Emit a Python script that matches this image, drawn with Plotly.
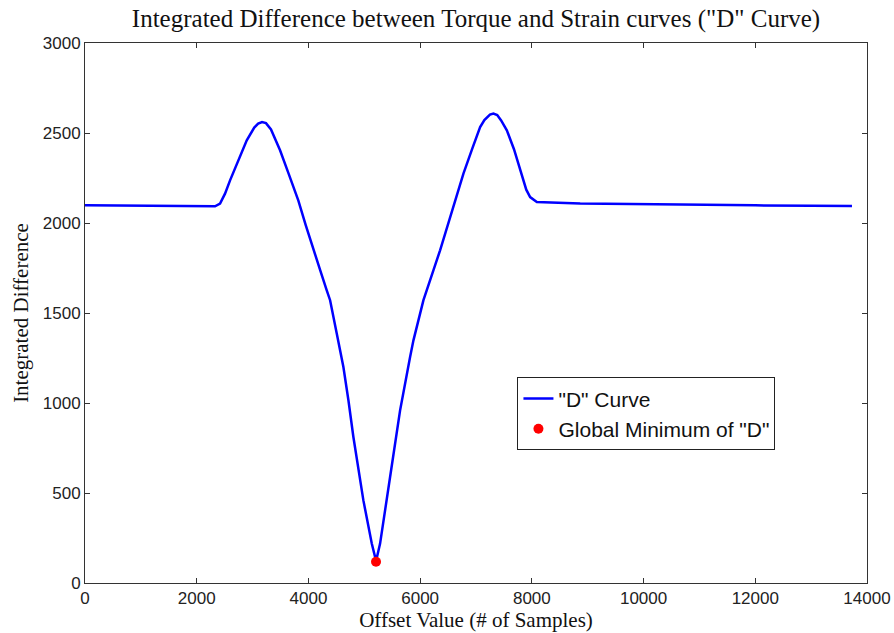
import plotly.graph_objects as go

# "D" curve samples
offset = [0, 600, 1200, 1800, 2328, 2418, 2507, 2597, 2750, 2896, 3030, 3100, 3170, 3240, 3330,
          3492, 3650, 3820, 3950, 4089, 4210, 4328, 4388, 4507, 4626, 4716, 4805, 4984,
          5134, 5211, 5283, 5462, 5641, 5820, 5880, 6059, 6119, 6240, 6357, 6490, 6626,
          6775, 6930, 7074, 7150, 7250, 7312, 7380, 7450, 7552, 7680, 7790, 7900, 7969,
          8089, 8865, 10000, 11000, 12000, 13000, 13731]
d_value = [2098, 2096, 2095, 2094, 2093, 2108, 2163, 2237, 2350, 2459, 2530, 2552, 2561, 2555,
           2520, 2404, 2270, 2124, 1990, 1848, 1738, 1626, 1571, 1386, 1200, 1015, 811, 459,
           219, 122, 219, 589, 959, 1256, 1348, 1571, 1630, 1740, 1848, 1985, 2124,
           2274, 2410, 2533, 2572, 2602, 2608, 2600, 2570, 2515, 2410, 2293, 2185, 2144,
           2117, 2108, 2103, 2100, 2098, 2096, 2095]
min_offset = [5210]
min_value = [118]

x_ticks = [0, 2000, 4000, 6000, 8000, 10000, 12000, 14000]
y_ticks = [0, 500, 1000, 1500, 2000, 2500, 3000]

fig = go.Figure()
fig.add_trace(go.Scatter(x=offset, y=d_value, mode="lines", name='"D" Curve',
                         line=dict(color="#0000ff", width=2.5)))
fig.add_trace(go.Scatter(x=min_offset, y=min_value, mode="markers",
                         name='Global Minimum of "D"',
                         marker=dict(color="#ff0000", size=10)))

axis_common = dict(showgrid=False, zeroline=False, showline=True, linecolor="#333333",
                   linewidth=1, ticks="inside", ticklen=5, tickcolor="#333333",
                   mirror="ticks", automargin=False,
                   tickfont=dict(family="Liberation Sans, Arial, sans-serif", size=17,
                                 color="#222222"))

serif = "Liberation Serif, Times New Roman, serif"

fig.update_xaxes(range=[0, 14000], tickvals=x_ticks, ticktext=[str(v) for v in x_ticks],
                 title=dict(text="Offset Value (# of Samples)", standoff=3,
                            font=dict(family=serif, size=21, color="#111111")),
                 **axis_common)
fig.update_yaxes(range=[0, 3000], tickvals=y_ticks, ticktext=[str(v) for v in y_ticks],
                 title=dict(text="Integrated Difference", standoff=8,
                            font=dict(family=serif, size=21, color="#111111")),
                 **axis_common)

fig.update_layout(
    width=894, height=633,
    margin=dict(l=85, r=27, t=43, b=50),
    paper_bgcolor="white", plot_bgcolor="white",
    title=dict(text='Integrated Difference between Torque and Strain curves ("D" Curve)',
               xref="paper", x=0.5, xanchor="center", y=0.971, yanchor="middle",
               font=dict(family=serif, size=25, color="#111111"), automargin=False),
    legend=dict(x=0.553, y=0.381, xanchor="left", yanchor="top",
                bgcolor="white", bordercolor="#222222", borderwidth=1,
                font=dict(family="Liberation Sans, Arial, sans-serif", size=21,
                          color="#111111"),
                tracegroupgap=0),
    showlegend=True,
)

fig.write_html("out.html")
